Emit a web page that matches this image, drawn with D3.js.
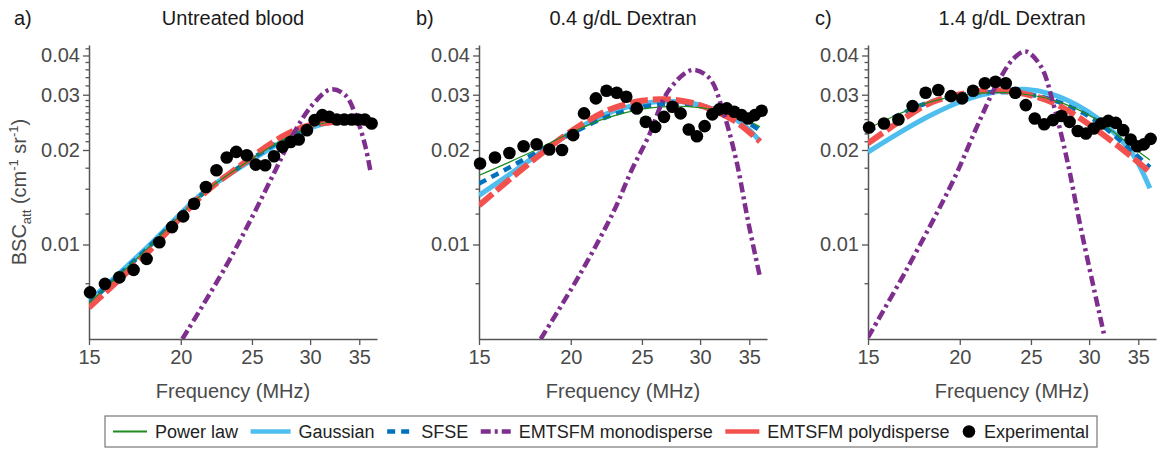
<!DOCTYPE html>
<html>
<head>
<meta charset="utf-8">
<script src="https://cdn.jsdelivr.net/npm/d3@7"></script>
<style>
  body { margin: 0; background: #fff; }
  text { font-family: "Liberation Sans", Arial, Helvetica, sans-serif; }
</style>
</head>
<body>
<div id="chart"></div>
<script>
// ---- data ----
const panelTitles = ["Untreated blood", "0.4 g/dL Dextran", "1.4 g/dL Dextran"];
const panelLetters = ["a)", "b)", "c)"];
const xTicks = [15, 20, 25, 30, 35];
const yTicks = [0.01, 0.02, 0.03, 0.04];
const yMinorTicks = [0.0075, 0.0125, 0.015, 0.0175, 0.02125, 0.0225, 0.02375, 0.025, 0.02625, 0.0275, 0.02875,
                     0.032, 0.034, 0.036, 0.038, 0.042];
const legendLabels = ["Power law", "Gaussian", "SFSE", "EMTSFM monodisperse", "EMTSFM polydisperse", "Experimental"];

// experimental frequencies (MHz)
const freqs = [15.05, 15.77, 16.5, 17.25, 17.97, 18.7, 19.46, 20.15, 20.85, 21.64, 22.37, 23.1, 23.8, 24.6, 25.3,
               26.06, 26.79, 27.5, 28.22, 28.95, 29.7, 30.43, 31.17, 31.86, 32.62, 33.39, 34.17, 34.88, 35.61, 36.38];

// a) untreated blood
const expA = [0.00704, 0.00749, 0.00786, 0.0083, 0.0090, 0.01017, 0.01136, 0.01229, 0.01349, 0.01524, 0.01724, 0.01892,
              0.01972, 0.01924, 0.01797, 0.01788, 0.0191, 0.02046, 0.02122, 0.0216, 0.02313, 0.0249, 0.02583, 0.0255,
              0.0250, 0.0250, 0.0250, 0.0250, 0.0250, 0.0243];
const fitFreqA = [15, 18, 21.5, 24, 26, 28, 30, 32, 34, 36];
const powerA = [0.0065, 0.0097, 0.0146, 0.0176, 0.0199, 0.0220, 0.0237, 0.0246, 0.0249, 0.0246];
const gaussA = [0.0066, 0.0098, 0.0147, 0.0175, 0.0197, 0.0218, 0.0235, 0.0245, 0.0249, 0.0247];
const sfseA  = [0.0065, 0.0097, 0.0146, 0.0176, 0.0199, 0.0221, 0.0237, 0.0246, 0.0248, 0.0245];
const polyA  = [0.0063, 0.0094, 0.0145, 0.0177, 0.0203, 0.0226, 0.0240, 0.0245, 0.0246, 0.0242];
const monoFreqA = [20.1, 23, 25, 26.9, 28.5, 30.2, 32, 33.5, 34.8, 35.7, 36.3];
const monoA = [0.005, 0.00846, 0.0122, 0.0172, 0.0226, 0.0278, 0.0312, 0.0299, 0.0249, 0.0204, 0.0168];

// b) 0.4 g/dL dextran
const expB = [0.01811, 0.01892, 0.01957, 0.02056, 0.02087, 0.02007, 0.0200, 0.0223, 0.02616, 0.02921, 0.0309, 0.03043,
              0.02955, 0.02713, 0.02459, 0.0237, 0.0255, 0.02746, 0.02616, 0.02325, 0.02213, 0.02382, 0.02597, 0.02694,
              0.02713, 0.02647, 0.02583, 0.0252, 0.02583, 0.02667];
const fitFreqB = [15, 16.5, 18, 20, 22.5, 25, 27, 29, 31.5, 33.5, 35, 36.2];
const powerB = [0.0166, 0.0183, 0.0201, 0.0227, 0.0254, 0.0270, 0.0275, 0.0275, 0.0268, 0.0258, 0.0247, 0.0237];
const gaussB = [0.01434, 0.0167, 0.0193, 0.0227, 0.0262, 0.0281, 0.0286, 0.0283, 0.0268, 0.0251, 0.0232, 0.0213];
const sfseB  = [0.01563, 0.0176, 0.0197, 0.0225, 0.0256, 0.0274, 0.0280, 0.0279, 0.0270, 0.0257, 0.0243, 0.0231];
const polyB  = [0.01332, 0.0161, 0.0190, 0.0229, 0.0268, 0.0287, 0.0290, 0.0284, 0.0266, 0.0247, 0.0228, 0.0213];
const monoFreqB = [18.2, 20.6, 22.9, 24.2, 25.5, 27.2, 29.25, 30.9, 32.2, 33.6, 34.86, 36.2];
const monoB = [0.005, 0.00806, 0.0128, 0.01724, 0.02199, 0.0310, 0.03596, 0.03384, 0.0268, 0.01856, 0.0119, 0.00786];

// c) 1.4 g/dL dextran
const expC = [0.0236, 0.0243, 0.0250, 0.0276, 0.03043, 0.03105, 0.0297, 0.02921, 0.0309, 0.03262, 0.033, 0.03262,
              0.03043, 0.0278, 0.0252, 0.02417, 0.0249, 0.02565, 0.02458, 0.0230, 0.02256, 0.02342, 0.0243, 0.02477,
              0.0244, 0.02313, 0.0216, 0.02056, 0.02084, 0.0217];
const fitFreqC = [15, 16.5, 18.2, 20.2, 22.5, 24.5, 26.6, 28.9, 30.7, 32.5, 34.5, 36.3];
const powerC = [0.0234, 0.0260, 0.0284, 0.0299, 0.0305, 0.0301, 0.0290, 0.0270, 0.0250, 0.0227, 0.0203, 0.0186];
const gaussC = [0.0197, 0.0226, 0.0257, 0.0287, 0.0307, 0.0312, 0.0302, 0.0278, 0.0254, 0.0226, 0.0192, 0.0151];
const sfseC  = [0.0229, 0.0258, 0.0284, 0.0300, 0.0306, 0.0302, 0.0290, 0.0268, 0.0247, 0.0222, 0.0196, 0.0176];
const polyC  = [0.0210, 0.0245, 0.0282, 0.0302, 0.0310, 0.0302, 0.0285, 0.0256, 0.0232, 0.0210, 0.0188, 0.0170];
const monoFreqC = [15, 16.9, 19.6, 21.1, 22.5, 23.7, 24.6, 25.8, 26.8, 28.0, 29.2, 31.5];
const monoC = [0.00506, 0.00826, 0.016, 0.0237, 0.0326, 0.0392, 0.0412, 0.0369, 0.0282, 0.0186, 0.0114, 0.00506];

// table built from the arrays above
const zip = (xs, ys) => xs.map((f, i) => [f, ys[i]]);
const panels = [
  { exp: zip(freqs, expA), power: zip(fitFreqA, powerA), gauss: zip(fitFreqA, gaussA), sfse: zip(fitFreqA, sfseA),
    poly: zip(fitFreqA, polyA), mono: zip(monoFreqA, monoA) },
  { exp: zip(freqs, expB), power: zip(fitFreqB, powerB), gauss: zip(fitFreqB, gaussB), sfse: zip(fitFreqB, sfseB),
    poly: zip(fitFreqB, polyB), mono: zip(monoFreqB, monoB) },
  { exp: zip(freqs, expC), power: zip(fitFreqC, powerC), gauss: zip(fitFreqC, gaussC), sfse: zip(fitFreqC, sfseC),
    poly: zip(fitFreqC, polyC), mono: zip(monoFreqC, monoC) }
];

// ---- layout / style ----
const width = 1159, height = 450;
const panelLeft = [89, 479, 868];
const letterX = [14, 416, 815];
const plotW = 288, plotTop = 45, plotBottom = 339;
const axisColor = "#555", labelColor = "#4a4a4a";

const styles = {
  power: { color: "#1f8a1f", width: 1.2, dash: null },
  gauss: { color: "#4DBEEE", width: 5, dash: null },
  sfse:  { color: "#0072BD", width: 4.5, dash: "8,6" },
  mono:  { color: "#7E2F8E", width: 4.5, dash: "10,4,3,4" },
  poly:  { color: "#F2514E", width: 6, dash: "18,5" }
};
const drawOrder = ["gauss", "sfse", "poly", "power", "mono"];

const svg = d3.select("#chart")
  .append("svg")
  .attr("width", width)
  .attr("height", height);

const y = d3.scaleLog().domain([0.005, 0.0432]).range([plotBottom, plotTop]);

panels.forEach((p, i) => {
  const x = d3.scaleLog().domain([15, 37]).range([panelLeft[i], panelLeft[i] + plotW]);
  const g = svg.append("g");

  svg.append("clipPath").attr("id", "clip" + i)
    .append("rect")
    .attr("x", panelLeft[i])
    .attr("y", plotTop)
    .attr("width", plotW)
    .attr("height", plotBottom - plotTop);

  // axes
  const gx = g.append("g")
    .attr("transform", `translate(0,${plotBottom})`)
    .call(d3.axisBottom(x).tickValues(xTicks).tickFormat(d3.format("d")).tickSize(6).tickSizeOuter(0).tickPadding(5));
  const gy = g.append("g")
    .attr("transform", `translate(${panelLeft[i]},0)`)
    .call(d3.axisLeft(y).tickValues(yTicks).tickFormat(d3.format(".2f")).tickSize(6).tickSizeOuter(0).tickPadding(3));

  // minor y ticks
  gy.selectAll(".minor")
    .data(yMinorTicks)
    .enter()
    .append("line")
    .attr("class", "minor")
    .attr("x1", -3.5)
    .attr("x2", 0)
    .attr("y1", d => y(d))
    .attr("y2", d => y(d));

  [gx, gy].forEach(a => {
    a.select(".domain").attr("stroke", axisColor).attr("stroke-width", 1.5);
    a.selectAll("line").attr("stroke", axisColor).attr("stroke-width", 1.3);
    a.selectAll("text").attr("fill", labelColor).style("font-size", "20px");
  });

  // curves
  const line = d3.line()
    .x(d => x(d[0]))
    .y(d => y(d[1]))
    .curve(d3.curveCatmullRom.alpha(0.5));

  const plot = g.append("g").attr("clip-path", `url(#clip${i})`);
  drawOrder.forEach(key => {
    const s = styles[key];
    plot.append("path")
      .datum(p[key])
      .attr("fill", "none")
      .attr("stroke", s.color)
      .attr("stroke-width", s.width)
      .attr("stroke-dasharray", s.dash)
      .attr("d", line);
  });

  // experimental points
  g.selectAll(".pt")
    .data(p.exp)
    .enter()
    .append("circle")
    .attr("cx", d => x(d[0]))
    .attr("cy", d => y(d[1]))
    .attr("r", 6.3)
    .attr("fill", "black");

  // titles
  const cx = panelLeft[i] + plotW / 2;
  svg.append("text")
    .attr("x", cx)
    .attr("y", 25)
    .attr("text-anchor", "middle")
    .attr("fill", "#1a1a1a")
    .style("font-size", "20px")
    .text(panelTitles[i]);

  svg.append("text")
    .attr("x", letterX[i])
    .attr("y", 25)
    .attr("fill", "#1a1a1a")
    .style("font-size", "20px")
    .text(panelLetters[i]);

  svg.append("text")
    .attr("x", cx)
    .attr("y", 398)
    .attr("text-anchor", "middle")
    .attr("fill", labelColor)
    .style("font-size", "20px")
    .text("Frequency (MHz)");
});

// y label
const yl = svg.append("text")
  .attr("transform", `translate(26,${(plotTop + plotBottom) / 2}) rotate(-90)`)
  .attr("text-anchor", "middle")
  .attr("fill", labelColor)
  .style("font-size", "20px");
yl.append("tspan").text("BSC");
yl.append("tspan").attr("dy", 5).style("font-size", "13px").text("att");
yl.append("tspan").attr("dy", -5).text(" (cm");
yl.append("tspan").attr("dy", -8).style("font-size", "13px").text("-1");
yl.append("tspan").attr("dy", 8).text(" sr");
yl.append("tspan").attr("dy", -8).style("font-size", "13px").text("-1");
yl.append("tspan").attr("dy", 8).text(")");

// legend
const legBox = { x0: 105, x1: 1097, y0: 416, y1: 447 };
const legend = svg.append("g");
legend.append("rect")
  .attr("x", legBox.x0)
  .attr("y", legBox.y0)
  .attr("width", legBox.x1 - legBox.x0)
  .attr("height", legBox.y1 - legBox.y0)
  .attr("fill", "white")
  .attr("stroke", "#777")
  .attr("stroke-width", 1.2);

const legKeys = ["power", "gauss", "sfse", "mono", "poly", "exp"];
const sampleW = { power: 34, gauss: 40, sfse: 26, mono: 30, poly: 34, exp: 14 };
const legY = (legBox.y0 + legBox.y1) / 2;

const items = legKeys.map((k, i) => {
  const t = legend.append("text")
    .attr("y", legY + 6)
    .attr("fill", "#222")
    .style("font-size", "18px")
    .text(legendLabels[i]);
  return { key: k, text: t, tw: t.node().getComputedTextLength() };
});
const gapText = 8;
const used = d3.sum(items, d => sampleW[d.key] + gapText + d.tw);
const inner = (legBox.x1 - legBox.x0) - 16;
const gap = (inner - used) / (items.length - 1);
let cursor = legBox.x0 + 8;
items.forEach(d => {
  const s = styles[d.key];
  if (d.key === "exp") {
    legend.append("circle")
      .attr("cx", cursor + sampleW.exp / 2)
      .attr("cy", legY)
      .attr("r", 6.3)
      .attr("fill", "black");
  } else {
    legend.append("line")
      .attr("x1", cursor)
      .attr("x2", cursor + sampleW[d.key])
      .attr("y1", legY)
      .attr("y2", legY)
      .attr("stroke", s.color)
      .attr("stroke-width", d.key === "power" ? 2 : Math.min(s.width, 4.5))
      .attr("stroke-dasharray", d.key === "poly" ? null : s.dash);
  }
  d.text.attr("x", cursor + sampleW[d.key] + gapText);
  cursor += sampleW[d.key] + gapText + d.tw + gap;
});
</script>
</body>
</html>
